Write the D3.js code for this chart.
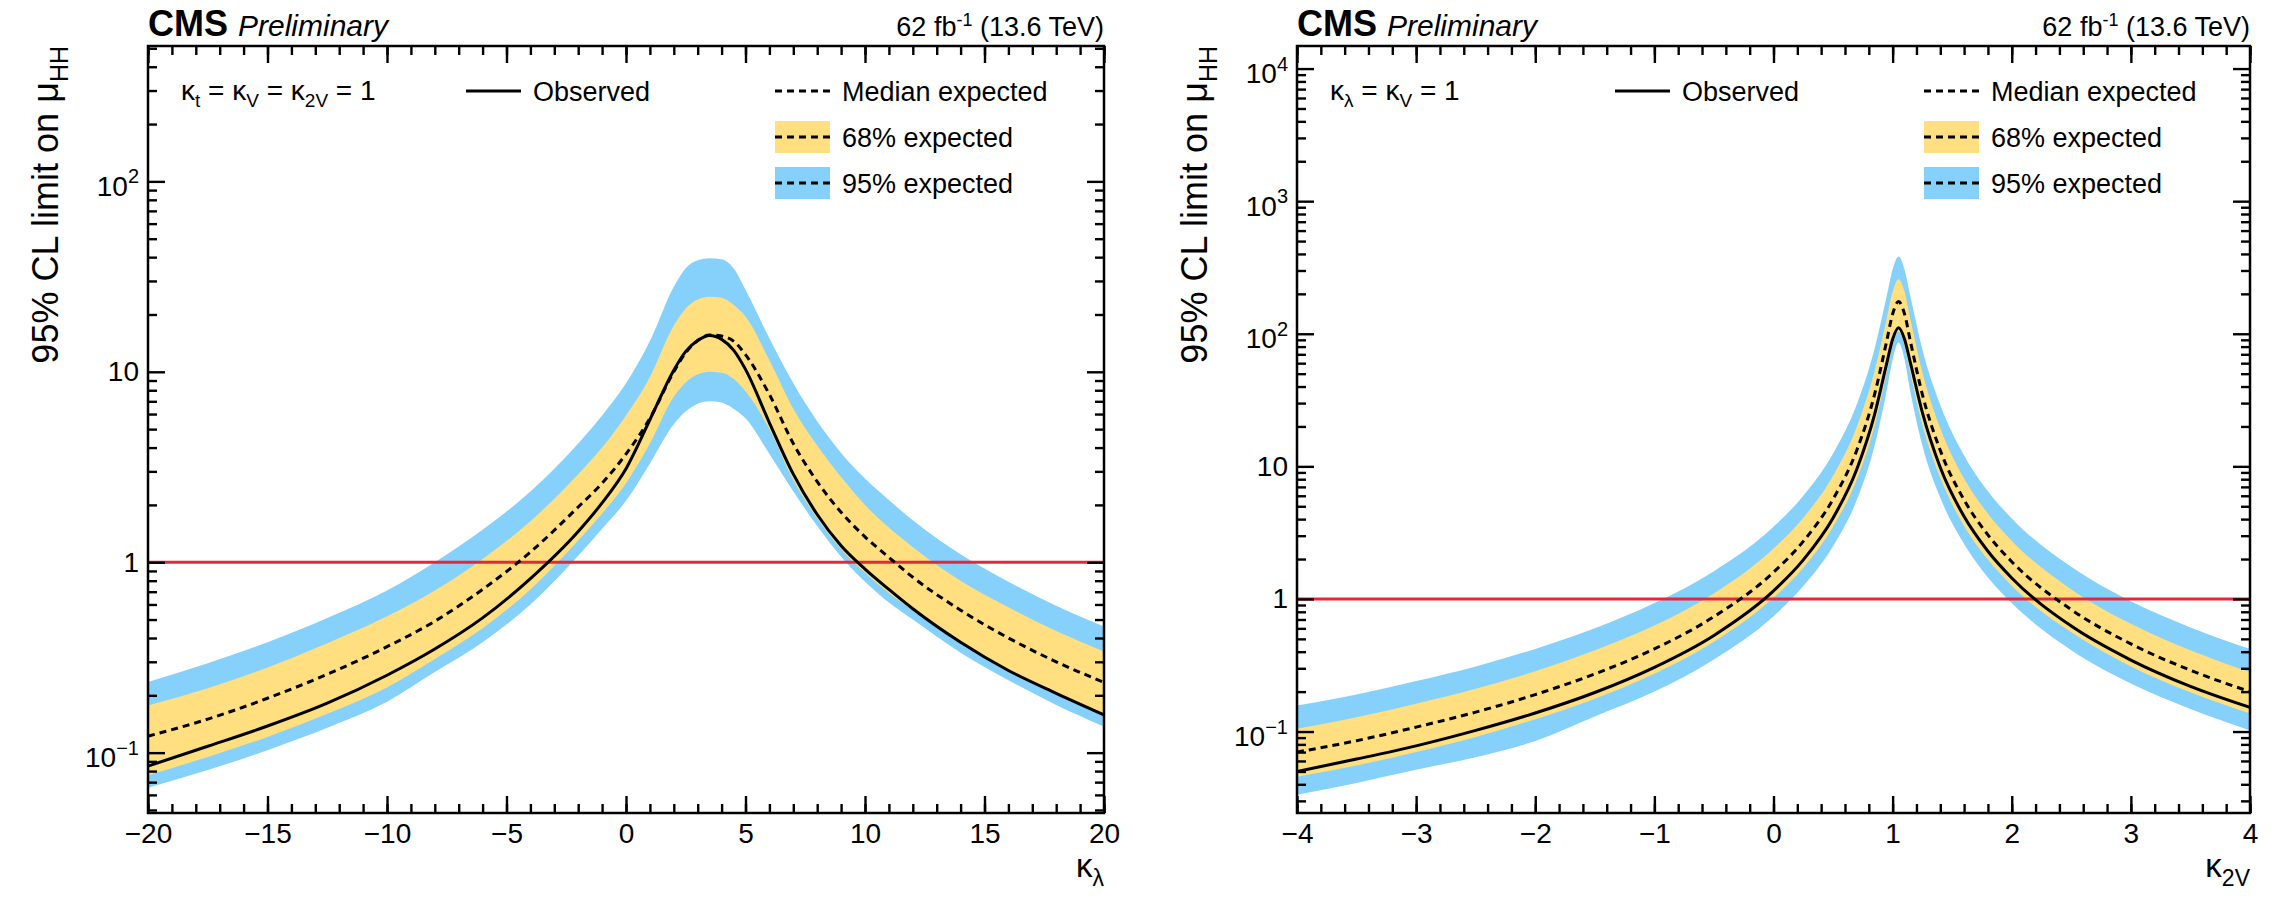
<!DOCTYPE html>
<html lang="en">
<head>
<meta charset="UTF-8">
<title>HH limit scans</title>
<script src="https://d3js.org/d3.v7.min.js"></script>
<style>
  body { margin: 0; background: #fff; }
  svg { display: block; font-family: "Liberation Sans", Arial, Helvetica, sans-serif; }
  text { white-space: pre; }
</style>
</head>
<body>
<div id="chart"></div>
<script>
// kappa_lambda scan (left panel)
var klX   = [-20, -17.5, -15, -12.5, -10, -8, -6, -4, -2, -1, 0, 1, 2, 2.5, 3, 3.5, 4, 4.5, 5, 6, 7, 8, 9, 10, 11, 12, 14, 16, 18, 20];
var klObs = [0.085, 0.108, 0.138, 0.182, 0.255, 0.35, 0.51, 0.82, 1.45, 2.05, 3.1, 5.6, 10.2, 12.8, 14.6, 15.5, 14.8, 13.0, 10.3, 5.4, 2.9, 1.78, 1.22, 0.92, 0.72, 0.57, 0.38, 0.27, 0.205, 0.158];
var klExp = [0.122, 0.150, 0.193, 0.258, 0.36, 0.49, 0.72, 1.13, 1.95, 2.6, 3.7, 5.7, 10.0, 12.6, 14.6, 15.6, 15.4, 14.5, 12.3, 7.6, 4.2, 2.65, 1.83, 1.36, 1.06, 0.834, 0.56, 0.40, 0.30, 0.234];
var klUp1 = [0.177, 0.218, 0.28, 0.375, 0.52, 0.71, 1.04, 1.64, 2.9, 4.0, 5.9, 9.4, 17.5, 21.5, 24.0, 24.8, 24.5, 22.5, 19.5, 11.5, 6.4, 4.1, 2.8, 2.0, 1.52, 1.2, 0.8, 0.58, 0.435, 0.34];
var klUp2 = [0.235, 0.295, 0.38, 0.51, 0.71, 1.0, 1.48, 2.35, 4.2, 5.9, 8.7, 14.5, 28, 35, 38.5, 39.5, 39, 35, 27, 15, 8.7, 5.5, 3.75, 2.75, 2.12, 1.66, 1.1, 0.79, 0.59, 0.46];
var klDn1 = [0.076, 0.095, 0.121, 0.16, 0.22, 0.31, 0.45, 0.72, 1.3, 1.8, 2.6, 4.2, 7.4, 8.8, 9.7, 10, 9.9, 9.2, 7.9, 5.0, 2.7, 1.7, 1.17, 0.88, 0.69, 0.56, 0.38, 0.27, 0.205, 0.16];
var klDn2 = [0.0655, 0.081, 0.103, 0.135, 0.185, 0.265, 0.38, 0.6, 1.08, 1.5, 2.1, 3.3, 5.3, 6.2, 6.8, 7.0, 6.9, 6.4, 5.7, 3.7, 2.35, 1.55, 1.07, 0.79, 0.615, 0.5, 0.335, 0.24, 0.178, 0.137];

// kappa_2V scan (right panel)
var k2vX   = [-4, -3.5, -3, -2.5, -2, -1.5, -1, -0.5, 0, 0.25, 0.5, 0.7, 0.85, 0.95, 1.0, 1.05, 1.1, 1.15, 1.25, 1.4, 1.6, 1.8, 2, 2.5, 3, 3.5, 4];
var k2vObs = [0.050, 0.062, 0.078, 0.102, 0.138, 0.197, 0.305, 0.531, 1.15, 1.97, 4.08, 9.56, 24.9, 59.5, 91, 111, 91, 60, 25.4, 9.8, 4.18, 2.29, 1.44, 0.624, 0.346, 0.219, 0.152];
var k2vExp = [0.070, 0.0853, 0.108, 0.140, 0.190, 0.272, 0.42, 0.735, 1.59, 2.72, 5.66, 13.3, 35.3, 88, 141, 175, 141, 87, 34.8, 13.2, 5.58, 3.04, 1.91, 0.83, 0.458, 0.29, 0.2];
var k2vUp1 = [0.105, 0.128, 0.162, 0.21, 0.285, 0.41, 0.63, 1.1, 2.4, 4.1, 8.5, 20, 53, 130, 208, 258, 208, 128, 51, 19.4, 8.1, 4.4, 2.75, 1.18, 0.65, 0.41, 0.28];
var k2vUp2 = [0.157, 0.19, 0.24, 0.31, 0.42, 0.6, 0.93, 1.62, 3.5, 6.0, 12.5, 29.5, 78, 192, 305, 382, 305, 190, 76, 29, 12.1, 6.5, 4.05, 1.75, 0.96, 0.61, 0.42];
var k2vDn1 = [0.0457, 0.0555, 0.07, 0.091, 0.124, 0.177, 0.273, 0.475, 1.02, 1.72, 3.5, 8.0, 20.5, 51, 82, 104, 82, 50, 20.5, 8.2, 3.55, 1.98, 1.26, 0.56, 0.31, 0.198, 0.137];
var k2vDn2 = [0.0333, 0.041, 0.0515, 0.064, 0.085, 0.13, 0.2, 0.35, 0.74, 1.25, 2.5, 5.6, 14.5, 37, 64, 86, 64, 36, 14.3, 5.8, 2.6, 1.45, 0.93, 0.41, 0.23, 0.148, 0.102];

var legendLabels = ["Observed", "Median expected", "68% expected", "95% expected"];

var width = 2284, height = 908;
var frameTop = 46, frameBottom = 813;
var yellow = "#ffdf7f", blue = "#85d1fb", red = "#e4283c";

var svg = d3.select("#chart").append("svg")
    .attr("width", width)
    .attr("height", height);
svg.append("rect").attr("width", width).attr("height", height).attr("fill", "#fff");

// writes a text with sub/superscripts, parts = [[string, "sub"|"sup"|null], ...]
function rich(sel, parts, big, small, shift) {
    var prev = 0;
    parts.forEach(function(pt) {
        var off = pt[1] === "sub" ? shift : (pt[1] === "sup" ? -shift * 1.3 : 0);
        sel.append("tspan")
            .attr("dy", off - prev)
            .attr("font-size", pt[1] ? small : big)
            .text(pt[0]);
        prev = off;
    });
    return sel;
}

function fmtX(d) {
    return d < 0 ? "\u2212" + (-d) : String(d);
}

function panel(p) {
    var x = d3.scaleLinear().domain(p.xDomain).range([p.left, p.right]);
    var y = d3.scaleLog().domain(p.yDomain).range([frameBottom, frameTop]);
    var g = svg.append("g");

    g.append("clipPath").attr("id", "clip" + p.id)
        .append("rect")
        .attr("x", p.left).attr("y", frameTop)
        .attr("width", p.right - p.left).attr("height", frameBottom - frameTop);
    var plot = g.append("g").attr("clip-path", "url(#clip" + p.id + ")");

    function band(lo, hi) {
        return d3.area()
            .x(function(d, i) { return x(p.xs[i]); })
            .y0(function(d, i) { return y(lo[i]); })
            .y1(function(d, i) { return y(hi[i]); })
            .curve(d3.curveMonotoneX);
    }
    function curve(v) {
        return d3.line()
            .x(function(d, i) { return x(p.xs[i]); })
            .y(function(d, i) { return y(v[i]); })
            .curve(d3.curveMonotoneX);
    }

    plot.append("path").datum(p.xs).attr("d", band(p.dn2, p.up2)).attr("fill", blue);
    plot.append("path").datum(p.xs).attr("d", band(p.dn1, p.up1)).attr("fill", yellow);

    plot.append("line")
        .attr("x1", p.left).attr("x2", p.right)
        .attr("y1", y(1)).attr("y2", y(1))
        .attr("stroke", red).attr("stroke-width", 3);

    plot.append("path").datum(p.xs).attr("d", curve(p.exp))
        .attr("fill", "none").attr("stroke", "#000").attr("stroke-width", 3)
        .attr("stroke-dasharray", "7,5");
    plot.append("path").datum(p.xs).attr("d", curve(p.obs))
        .attr("fill", "none").attr("stroke", "#000").attr("stroke-width", 3);

    // axes, ticks pointing inwards on all four sides
    var yt = y.ticks(20);
    var yMaj = yt.filter(function(d) { return Math.abs(Math.log10(d) - Math.round(Math.log10(d))) < 1e-6; });
    var yMin = yt.filter(function(d) { return yMaj.indexOf(d) < 0; });

    function style(a, labels) {
        a.select(".domain").remove();
        a.attr("font-family", null).attr("font-size", 28);
        a.selectAll("line").attr("stroke-width", 2.4);
        if (!labels) a.selectAll("text").remove();
    }

    g.append("g").attr("transform", "translate(0," + frameBottom + ")")
        .call(d3.axisBottom(x).tickValues(p.xMinor).tickSize(-9).tickFormat(""))
        .call(style, false);
    g.append("g").attr("transform", "translate(0," + frameBottom + ")")
        .call(d3.axisBottom(x).tickValues(p.xMajor).tickSize(-17).tickPadding(10).tickFormat(fmtX))
        .call(style, true);
    g.append("g").attr("transform", "translate(0," + frameTop + ")")
        .call(d3.axisTop(x).tickValues(p.xMinor).tickSize(-9).tickFormat(""))
        .call(style, false);
    g.append("g").attr("transform", "translate(0," + frameTop + ")")
        .call(d3.axisTop(x).tickValues(p.xMajor).tickSize(-17).tickFormat(""))
        .call(style, false);

    g.append("g").attr("transform", "translate(" + p.left + ",0)")
        .call(d3.axisLeft(y).tickValues(yMin).tickSize(-9).tickFormat(""))
        .call(style, false);
    var ya = g.append("g").attr("transform", "translate(" + p.left + ",0)")
        .call(d3.axisLeft(y).tickValues(yMaj).tickSize(-17).tickPadding(9))
        .call(style, true);
    ya.selectAll(".tick text").each(function(d) {
        var e = Math.round(Math.log10(d));
        var t = d3.select(this).text(null);
        if (e === 0) t.text("1");
        else if (e === 1) t.text("10");
        else {
            t.attr("dy", "0.5em");
            t.append("tspan").text("10");
            t.append("tspan").attr("dy", "-0.62em").attr("font-size", 20)
                .text(e < 0 ? "\u2212" + (-e) : String(e));
        }
    });
    g.append("g").attr("transform", "translate(" + p.right + ",0)")
        .call(d3.axisRight(y).tickValues(yMin).tickSize(-9).tickFormat(""))
        .call(style, false);
    g.append("g").attr("transform", "translate(" + p.right + ",0)")
        .call(d3.axisRight(y).tickValues(yMaj).tickSize(-17).tickFormat(""))
        .call(style, false);

    g.append("rect")
        .attr("x", p.left).attr("y", frameTop)
        .attr("width", p.right - p.left).attr("height", frameBottom - frameTop)
        .attr("fill", "none").attr("stroke", "#000").attr("stroke-width", 2.5);

    // axis titles
    rich(g.append("text").attr("x", p.right).attr("y", 877).attr("text-anchor", "end"),
        p.xTitle, 33, 23, 9);
    rich(g.append("text").attr("text-anchor", "end")
            .attr("transform", "translate(" + (p.left - 90) + "," + frameTop + ") rotate(-90)"),
        [["95% CL limit on \u03bc", null], ["HH", "sub"]], 36, 25, 10);

    // header
    var cms = g.append("text").attr("x", p.left).attr("y", 36)
        .attr("font-weight", "bold").attr("font-size", 36).text("CMS");
    var cw = cms.node().getComputedTextLength();
    g.append("text").attr("x", p.left + cw + 10).attr("y", 36)
        .attr("font-style", "italic").attr("font-size", 30).text("Preliminary");
    rich(g.append("text").attr("x", p.right).attr("y", 36).attr("text-anchor", "end"),
        [["62 fb", null], ["-1", "sup"], [" (13.6 TeV)", null]], 27, 18, 8);

    // legend
    var rows = [91, 137, 183];
    rich(g.append("text").attr("x", p.left + 33).attr("y", rows[0] + 9), p.coupling, 28, 19, 7);

    var ox = p.left + 318, bx = p.left + 627;
    g.append("line").attr("x1", ox).attr("x2", ox + 55).attr("y1", rows[0]).attr("y2", rows[0])
        .attr("stroke", "#000").attr("stroke-width", 3);
    g.append("text").attr("x", ox + 67).attr("y", rows[0] + 10).attr("font-size", 27).text(legendLabels[0]);

    [null, yellow, blue].forEach(function(fill, i) {
        var cy = rows[i];
        if (fill) {
            g.append("rect").attr("x", bx).attr("y", cy - 16).attr("width", 55).attr("height", 32).attr("fill", fill);
        }
        g.append("line").attr("x1", bx).attr("x2", bx + 55).attr("y1", cy).attr("y2", cy)
            .attr("stroke", "#000").attr("stroke-width", 3).attr("stroke-dasharray", "7,5");
        g.append("text").attr("x", bx + 67).attr("y", cy + 10).attr("font-size", 27).text(legendLabels[i + 1]);
    });
}

panel({
    id: "kl", left: 148, right: 1104,
    xDomain: [-20, 20], yDomain: [0.0482, 514],
    xMajor: d3.range(-20, 21, 5), xMinor: d3.range(-20, 21, 1),
    xs: klX, obs: klObs, exp: klExp, up1: klUp1, up2: klUp2, dn1: klDn1, dn2: klDn2,
    xTitle: [["\u03ba", null], ["\u03bb", "sub"]],
    coupling: [["\u03ba", null], ["t", "sub"], [" = \u03ba", null], ["V", "sub"], [" = \u03ba", null], ["2V", "sub"], [" = 1", null]]
});

panel({
    id: "k2v", left: 1297, right: 2250,
    xDomain: [-4, 4], yDomain: [0.0243, 14800],
    xMajor: d3.range(-4, 5, 1), xMinor: d3.range(-20, 21, 1).map(function(d) { return d / 5; }),
    xs: k2vX, obs: k2vObs, exp: k2vExp, up1: k2vUp1, up2: k2vUp2, dn1: k2vDn1, dn2: k2vDn2,
    xTitle: [["\u03ba", null], ["2V", "sub"]],
    coupling: [["\u03ba", null], ["\u03bb", "sub"], [" = \u03ba", null], ["V", "sub"], [" = 1", null]]
});
</script>
</body>
</html>
